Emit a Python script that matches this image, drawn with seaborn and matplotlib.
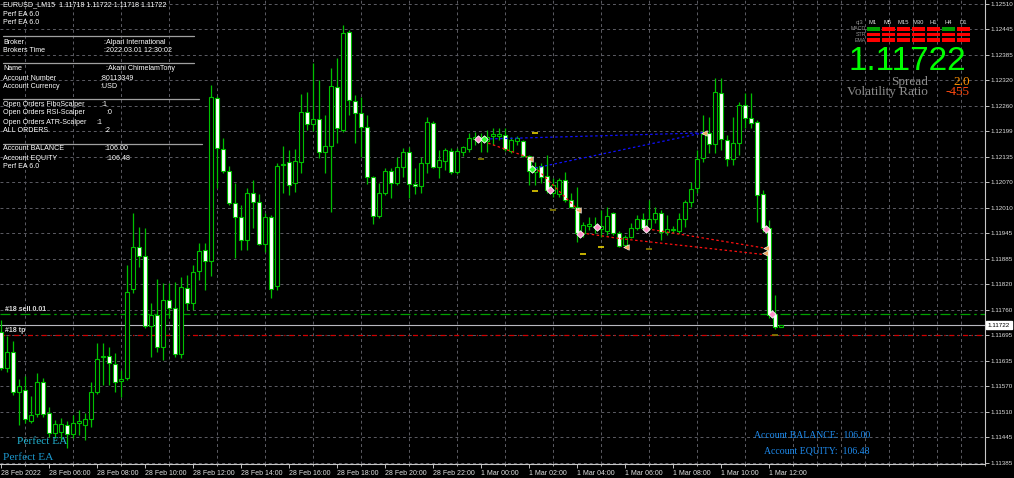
import matplotlib
matplotlib.use("Agg")
import matplotlib.pyplot as plt
from matplotlib.lines import Line2D
from matplotlib.patches import Rectangle
import matplotlib.transforms as mtransforms
import seaborn as sns
import numpy as np
import pandas as pd

# EURUSD M15 candles, 28 Feb 04:00 -> 1 Mar 12:30
opens = [1.11705, 1.11617, 1.11656, 1.11558, 1.11563, 1.11487, 1.11504, 1.11583, 1.11507, 1.11458,
         1.11460, 1.11477, 1.11455, 1.11482, 1.11477, 1.11492, 1.11558, 1.11644, 1.11646, 1.11627,
         1.11585, 1.11592, 1.11811, 1.11913, 1.11891, 1.11720, 1.11747, 1.11668, 1.11784, 1.11764,
         1.11651, 1.11813, 1.11776, 1.11855, 1.11906, 1.11879, 1.12279, 1.12154, 1.12100, 1.12021,
         1.11987, 1.11931, 1.12046, 1.12024, 1.11921, 1.11987, 1.11818, 1.12114, 1.12122, 1.12070,
         1.12122, 1.12244, 1.12215, 1.12227, 1.12146, 1.12161, 1.12305, 1.12200, 1.12440, 1.12271,
         1.12242, 1.12207, 1.12085, 1.11989, 1.12046, 1.12100, 1.12070, 1.12109, 1.12146, 1.12068,
         1.12063, 1.12119, 1.12217, 1.12109, 1.12124, 1.12149, 1.12097, 1.12146, 1.12154, 1.12178,
         1.12176, 1.12173, 1.12185, 1.12185, 1.12188, 1.12149, 1.12173, 1.12173, 1.12136, 1.12097,
         1.12112, 1.12087, 1.12046, 1.12043, 1.12078, 1.12029, 1.12011, 1.11948, 1.11965, 1.11962,
         1.11958, 1.11953, 1.11997, 1.11948, 1.11918, 1.11938, 1.11960, 1.11982, 1.11960, 1.11982,
         1.11997, 1.11950, 1.11955, 1.11953, 1.11982, 1.12024, 1.12058, 1.12132, 1.12193, 1.12166,
         1.12291, 1.12176, 1.12129, 1.12168, 1.12261, 1.12230, 1.12220, 1.12043, 1.11960, 1.11749,
         1.11718]
highs = [1.11735, 1.11695, 1.11683, 1.11590, 1.11597, 1.11548, 1.11605, 1.11592, 1.11521, 1.11490,
         1.11494, 1.11487, 1.11502, 1.11514, 1.11507, 1.11583, 1.11678, 1.11678, 1.11668, 1.11654,
         1.11612, 1.11869, 1.11997, 1.11962, 1.11960, 1.11776, 1.11835, 1.11825, 1.11825, 1.11828,
         1.11840, 1.11845, 1.11869, 1.11923, 1.11923, 1.12310, 1.12283, 1.12181, 1.12112, 1.12070,
         1.12016, 1.12058, 1.12078, 1.12043, 1.11997, 1.11992, 1.12119, 1.12161, 1.12151, 1.12154,
         1.12288, 1.12293, 1.12364, 1.12323, 1.12237, 1.12352, 1.12377, 1.12457, 1.12445, 1.12286,
         1.12281, 1.12237, 1.12087, 1.12070, 1.12107, 1.12107, 1.12134, 1.12156, 1.12158, 1.12107,
         1.12134, 1.12232, 1.12222, 1.12151, 1.12156, 1.12156, 1.12156, 1.12161, 1.12193, 1.12195,
         1.12193, 1.12200, 1.12205, 1.12205, 1.12205, 1.12183, 1.12185, 1.12176, 1.12139, 1.12122,
         1.12119, 1.12139, 1.12083, 1.12083, 1.12097, 1.12046, 1.12060, 1.11975, 1.11987, 1.11987,
         1.12004, 1.12011, 1.11999, 1.11953, 1.11943, 1.11972, 1.11992, 1.11997, 1.12029, 1.12011,
         1.12004, 1.11992, 1.11965, 1.11997, 1.12029, 1.12073, 1.12151, 1.12237, 1.12232, 1.12328,
         1.12328, 1.12188, 1.12232, 1.12269, 1.12291, 1.12291, 1.12225, 1.12053, 1.11980, 1.11796,
         1.11722]
lows = [1.11612, 1.11607, 1.11551, 1.11477, 1.11482, 1.11482, 1.11497, 1.11497, 1.11448, 1.11445,
        1.11441, 1.11421, 1.11445, 1.11453, 1.11441, 1.11472, 1.11553, 1.11575, 1.11575, 1.11558,
        1.11546, 1.11588, 1.11801, 1.11864, 1.11715, 1.11644, 1.11656, 1.11637, 1.11740, 1.11644,
        1.11642, 1.11759, 1.11759, 1.11833, 1.11808, 1.11842, 1.12058, 1.12095, 1.12016, 1.11887,
        1.11906, 1.11906, 1.11960, 1.11918, 1.11901, 1.11789, 1.11808, 1.12046, 1.12041, 1.12048,
        1.12095, 1.12200, 1.12198, 1.12132, 1.12095, 1.11999, 1.12168, 1.12195, 1.12237, 1.12168,
        1.12134, 1.12068, 1.11970, 1.11985, 1.12041, 1.12034, 1.12065, 1.12085, 1.12034, 1.12043,
        1.12046, 1.12095, 1.12107, 1.12083, 1.12102, 1.12092, 1.12092, 1.12136, 1.12146, 1.12163,
        1.12146, 1.12146, 1.12163, 1.12176, 1.12149, 1.12144, 1.12163, 1.12134, 1.12065, 1.12065,
        1.12070, 1.12046, 1.12036, 1.12036, 1.12024, 1.12009, 1.11926, 1.11938, 1.11955, 1.11948,
        1.11938, 1.11943, 1.11943, 1.11913, 1.11913, 1.11936, 1.11955, 1.11955, 1.11955, 1.11972,
        1.11931, 1.11943, 1.11948, 1.11948, 1.11962, 1.12011, 1.12046, 1.12122, 1.12144, 1.12144,
        1.12151, 1.12112, 1.12114, 1.12139, 1.12205, 1.12205, 1.11975, 1.11950, 1.11740, 1.11713,
        1.11718]
closes = [1.11617, 1.11656, 1.11558, 1.11573, 1.11492, 1.11502, 1.11583, 1.11504, 1.11458, 1.11480,
          1.11480, 1.11455, 1.11482, 1.11487, 1.11492, 1.11558, 1.11639, 1.11646, 1.11629, 1.11583,
          1.11590, 1.11803, 1.11913, 1.11891, 1.11720, 1.11747, 1.11668, 1.11784, 1.11764, 1.11651,
          1.11815, 1.11776, 1.11852, 1.11904, 1.11879, 1.12281, 1.12156, 1.12100, 1.12021, 1.11987,
          1.11931, 1.12046, 1.12024, 1.11921, 1.11987, 1.11811, 1.12112, 1.12117, 1.12065, 1.12124,
          1.12244, 1.12215, 1.12227, 1.12146, 1.12161, 1.12308, 1.12205, 1.12438, 1.12274, 1.12242,
          1.12207, 1.12085, 1.11989, 1.12046, 1.12100, 1.12070, 1.12109, 1.12146, 1.12068, 1.12063,
          1.12119, 1.12220, 1.12109, 1.12127, 1.12151, 1.12097, 1.12149, 1.12158, 1.12181, 1.12183,
          1.12183, 1.12183, 1.12190, 1.12190, 1.12154, 1.12176, 1.12181, 1.12136, 1.12100, 1.12109,
          1.12085, 1.12053, 1.12065, 1.12078, 1.12029, 1.12011, 1.11948, 1.11967, 1.11970, 1.11965,
          1.11965, 1.11989, 1.11948, 1.11916, 1.11938, 1.11960, 1.11982, 1.11960, 1.11982, 1.11997,
          1.11950, 1.11958, 1.11958, 1.11982, 1.12024, 1.12056, 1.12129, 1.12190, 1.12166, 1.12293,
          1.12178, 1.12129, 1.12168, 1.12261, 1.12230, 1.12217, 1.12041, 1.11960, 1.11747, 1.11717,
          1.11722]

# price scale labels (one per grid line, top to bottom)
price_labels = ["1.12510", "1.12445", "1.12385", "1.12320", "1.12260", "1.12199", "1.12135",
                "1.12070", "1.12010", "1.11945", "1.11885", "1.11820", "1.11760", "1.11695",
                "1.11635", "1.11570", "1.11510", "1.11445", "1.11385"]
time_labels = ["28 Feb 2022", "28 Feb 06:00", "28 Feb 08:00", "28 Feb 10:00", "28 Feb 12:00",
               "28 Feb 14:00", "28 Feb 16:00", "28 Feb 18:00", "28 Feb 20:00", "28 Feb 22:00",
               "1 Mar 00:00", "1 Mar 02:00", "1 Mar 04:00", "1 Mar 06:00", "1 Mar 08:00",
               "1 Mar 10:00", "1 Mar 12:00"]

bid = 1.11722
sell_price = 1.11749
tp_price = 1.11697

# trade history lines (bar index, price)
blue_start_bar = [80.7, 89.0]
blue_start_px = [1.12178, 1.12107]
blue_end_bar = [117.0, 117.0]
blue_end_px = [1.12193, 1.12193]
red_start_bar = [81.2, 89.5, 96.8, 103.2, 107.7]
red_start_px = [1.12168, 1.12102, 1.11948, 1.11934, 1.11958]
red_end_bar = [87.7, 96.2, 103.2, 127.2, 127.2]
red_end_px = [1.12134, 1.12004, 1.11934, 1.11895, 1.11911]

# trade arrows
pink_bar = [79.5, 91.5, 96.5, 99.3, 107.5, 127.5, 128.5]
pink_px = [1.12178, 1.12053, 1.11945, 1.11962, 1.11958, 1.11958, 1.11749]
orange_bar = [88.2, 96.2, 104.2, 117.2, 127.5, 127.4]
orange_px = [1.12129, 1.12004, 1.11913, 1.12193, 1.11911, 1.11899]
green_bar = [80.5, 88.5]
green_px = [1.12178, 1.12105]
yellow_bar = [89.0, 89.0, 97.0, 100.0]
yellow_px = [1.12193, 1.12051, 1.11896, 1.11913]
olive_bar = [80.0, 92.0, 108.0, 129.0]
olive_px = [1.12129, 1.12004, 1.11908, 1.11698]

# multi timeframe panel
periods = ["M1", "M5", "M15", "M30", "H1", "H4", "D1"]
macd_up = [1, 0, 0, 0, 0, 1, 0]
str_up = [0, 0, 0, 0, 0, 0, 0]
ema_up = [0, 0, 0, 0, 0, 0, 0]

W, H = 1014, 478
sns.set_theme(style="dark", rc={"axes.facecolor": "black", "figure.facecolor": "black",
                                "axes.edgecolor": "#c0c0c0", "text.color": "white"})
plt.rcParams['font.family'] = ['Liberation Sans', 'DejaVu Sans']

fig = plt.figure(figsize=(W / 100, H / 100), dpi=100)
ax = fig.add_axes([0, 14 / H, 985 / W, 464 / H])

df = pd.DataFrame({"open": opens, "high": highs, "low": lows, "close": closes})
df["bar"] = np.arange(len(df))
bull = df["close"] >= df["open"]

green = "#00c000"
ax.vlines(df["bar"], df["low"], df["high"], color=green, lw=0.9, zorder=2)
body = (df["close"] - df["open"]).abs().clip(lower=0.000012)
ax.bar(df["bar"], body, bottom=df[["open", "close"]].min(axis=1), width=0.55,
       color=np.where(bull, "black", "white"), edgecolor=green, linewidth=0.8, zorder=3)

# order lines
ax.axhline(sell_price, color="#00a000", lw=0.9, ls=(0, (8, 3, 2, 3)), zorder=1)
ax.axhline(bid, color="#b8b8c0", lw=0.8, zorder=1)
ax.axhline(tp_price, color="#d00000", lw=0.9, ls=(0, (4, 3, 1, 3)), zorder=1)

for x0, y0, x1, y1 in zip(blue_start_bar, blue_start_px, blue_end_bar, blue_end_px):
    ax.plot([x0, x1], [y0, y1], color="#1010ff", lw=0.9, ls=(0, (2, 2)), zorder=4)
for x0, y0, x1, y1 in zip(red_start_bar, red_start_px, red_end_bar, red_end_px):
    ax.plot([x0, x1], [y0, y1], color="#ff1010", lw=0.9, ls=(0, (2, 2)), zorder=4)

sns.scatterplot(x=pink_bar, y=pink_px, ax=ax, color="#ff90c8", edgecolor="white",
                marker="D", s=14, linewidth=0.6, zorder=5)
sns.scatterplot(x=orange_bar, y=orange_px, ax=ax, color="#f0a860", edgecolor="white",
                marker="<", s=16, linewidth=0.4, zorder=5)
sns.scatterplot(x=green_bar, y=green_px, ax=ax, color="#30ff30", edgecolor="white",
                marker="D", s=14, linewidth=0.6, zorder=5)
sns.scatterplot(x=yellow_bar, y=yellow_px, ax=ax, color="#e8d000", marker="_", s=22,
                linewidth=1.2, zorder=5)
sns.scatterplot(x=olive_bar, y=olive_px, ax=ax, color="#8a8000", marker="_", s=22,
                linewidth=1.2, zorder=5)

# axes: MT4 look
grid_levels = 1.12510 - 0.000625 * np.arange(len(price_labels))
ax.set_xlim(-1 / 6, 164.0)
ax.set_ylim(1.113818, 1.125186)
ax.yaxis.tick_right()
ax.set_yticks(grid_levels)
ax.set_yticklabels(price_labels)
ax.set_xticks(np.arange(0, 129, 8))
ax.set_xticklabels(time_labels, ha="left")
ax.set_xticks(np.arange(0, 165, 4), minor=True)
ax.tick_params(axis="y", which="major", right=True, length=3, width=0.7, color="#c0c0c0",
               pad=1, labelsize=4.5, labelcolor="#e0e0e0")
ax.tick_params(axis="x", which="major", bottom=True, length=3, width=0.7, color="#c0c0c0",
               pad=1.5, labelsize=5, labelcolor="#e0e0e0")
ax.tick_params(axis="x", which="minor", bottom=True, length=1.5, width=0.6, color="#c0c0c0")
ax.grid(False)
ax.grid(True, axis="y", which="major", color="#5c5c64", lw=0.7, ls=(0, (3, 3)))
ax.grid(True, axis="x", which="minor", color="#5c5c64", lw=0.7, ls=(0, (3, 3)))
for side in ["top", "left"]:
    ax.spines[side].set_visible(False)
for side in ["right", "bottom"]:
    ax.spines[side].set_color("#c8c8c8")
    ax.spines[side].set_linewidth(0.8)
ax.set_xlabel("")
ax.set_ylabel("")

# current price tag on the scale
tag = mtransforms.blended_transform_factory(ax.transAxes, ax.transData)
ax.text(1.003, bid, "1.11722", transform=tag, fontsize=4.5, color="black", va="center",
        ha="left", bbox=dict(boxstyle="square,pad=0.25", fc="white", ec="white"), zorder=10,
        clip_on=False)

ax.text(0.005, sell_price + 0.00011, "#18 sell 0.01", transform=tag, fontsize=5,
        color="#d8d8d8", fontweight="bold", va="center")
ax.text(0.005, tp_price + 0.00011, "#18 tp", transform=tag, fontsize=5,
        color="#d8d8d8", fontweight="bold", va="center")


def ftext(x, y, s, **kw):
    fig.text(x / W, 1 - y / H, s, va="center", **kw)


def fline(x0, x1, y, color="#a0a0a0"):
    fig.add_artist(Line2D([x0 / W, x1 / W], [1 - y / H, 1 - y / H], color=color, lw=0.9))


# account info panel (top left)
info = dict(fontsize=5.1, color="white")
ftext(3, 5, "EURUSD_LM15  1.11718 1.11722 1.11718 1.11722", **info)
ftext(3, 14, "Perf EA 6.0", **info)
ftext(3, 23, "Perf EA 6.0", **info)
fline(3, 194, 36)
ftext(3, 42, "Broker", **info)
ftext(104, 42, ":Alpari International", **info)
ftext(3, 51, "Brokers Time", **info)
ftext(104, 51, ":2022.03.01 12:30:02", **info)
fline(3, 194, 63)
ftext(3, 69, "Name", **info)
ftext(106, 69, ":Akani ChimelamTony", **info)
ftext(3, 78, "Account Number", **info)
ftext(100, 78, ":80113349", **info)
ftext(3, 87, "Account Currency", **info)
ftext(100, 87, ":USD", **info)
fline(3, 199, 99)
ftext(3, 104, "Open Orders FiboScalper", **info)
ftext(101, 104, ":1", **info)
ftext(3, 113, "Open Orders RSI-Scalper", **info)
ftext(106, 113, ":0", **info)
ftext(3, 122, "Open Orders ATR-Scalper", **info)
ftext(96, 122, ":1", **info)
ftext(3, 131, "ALL ORDERS", **info)
ftext(104, 131, ":2", **info)
fline(3, 202, 144)
ftext(3, 149, "Account BALANCE", **info)
ftext(104, 149, ":106.00", **info)
ftext(3, 158, "Account EQUITY", **info)
ftext(106, 158, ":106.48", **info)
ftext(3, 167, "Perf EA 6.0", **info)

# multi timeframe signal panel (top right)
col_x = [873, 888, 903, 918, 933, 948, 963]
ftext(860, 22.5, "cj3", fontsize=4.2, color="#909090", ha="center")
for cx, p in zip(col_x, periods):
    ftext(cx, 22.5, p, fontsize=4.2, color="#e0e0e0", ha="center")
for row_y, name, states in [(29, "MACD", macd_up), (34.5, "STR", str_up), (40, "EMA", ema_up)]:
    ftext(866, row_y, name, fontsize=3.8, color="#909090", ha="right")
    for cx, up in zip(col_x, states):
        fig.add_artist(Rectangle(((cx - 6.5) / W, 1 - (row_y + 1.7) / H), 13 / W, 3.4 / H,
                                 transform=fig.transFigure, color="#00a000" if up else "#ff0000",
                                 lw=0))
ftext(907, 61, "1.11722", fontsize=24, color="#00ff00", ha="center")
serif = ['Liberation Serif', 'DejaVu Serif']
ftext(928, 82, "Spread", fontsize=9.5, color="#8c8c8c", ha="right", family=serif)
ftext(970, 82, "2.0", fontsize=9.5, color="#ff9000", ha="right", family=serif)
ftext(928, 92.5, "Volatility Ratio", fontsize=9.5, color="#8c8c8c", ha="right", family=serif)
ftext(970, 92.5, "-455", fontsize=9.5, color="#ff4a10", ha="right", family=serif)

# bottom captions
ftext(17, 442, "Perfect EA", fontsize=8.2, color="#22b4d4", family=serif)
ftext(3, 457, "Perfect EA", fontsize=8.2, color="#1c9ad0", family=serif)
ftext(870, 436, "Account BALANCE:  106.00", fontsize=7, color="#1e8cf0", ha="right", family=serif)
ftext(870, 451, "Account EQUITY:  106.48", fontsize=7, color="#1e8cf0", ha="right", family=serif)

fig.savefig("out.png", dpi=100, facecolor="black")
